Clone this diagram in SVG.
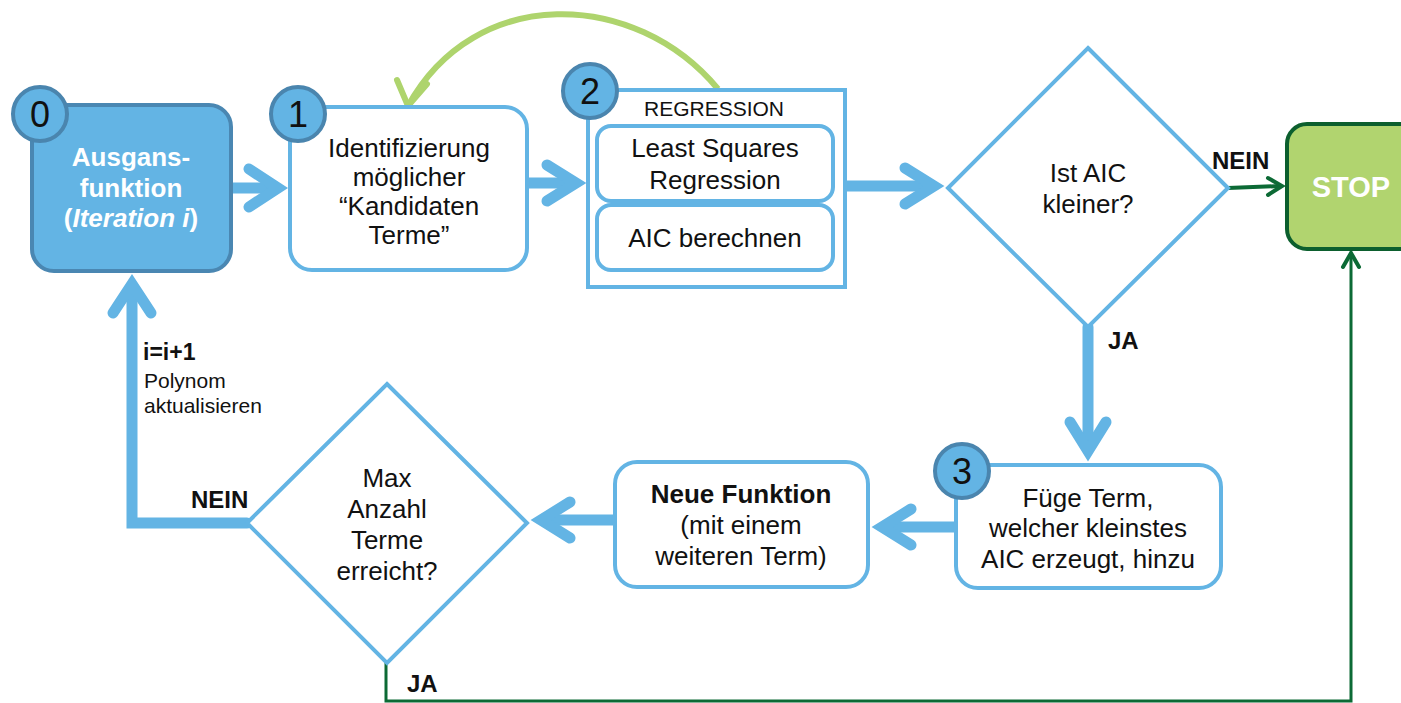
<svg xmlns="http://www.w3.org/2000/svg" width="1401" height="703" viewBox="0 0 1401 703">
<style>
text{font-family:"Liberation Sans",Arial,sans-serif;fill:#111;text-anchor:middle}
.t{font-size:26px}
.b{font-weight:bold}
.w{fill:#fff}
.box{fill:#fff;stroke:#63B4E4;stroke-width:4}
.num{fill:#63B4E4;stroke:#4A85AE;stroke-width:4}
.nt{font-size:36px}
.ba{fill:none;stroke:#63B4E4;stroke-width:11;stroke-linecap:round;stroke-linejoin:miter}
.ga{fill:none;stroke:#0C6A35;stroke-width:4;stroke-linecap:round;stroke-linejoin:miter}
.lb{font-size:24px;font-weight:bold;text-anchor:start}
.sm{font-size:21px;text-anchor:start}
</style>
<g id="connectors">
<path class="ba" d="M231 188 H272"/>
<polyline class="ba" points="249,169 278,188 249,207"/>
<path class="ba" d="M527 183 H570"/>
<polyline class="ba" points="547,165 576,183 547,201"/>
<path class="ba" d="M845 186 H928"/>
<polyline class="ba" points="905,168 934,186 905,204"/>
<path class="ba" d="M1088 327 V444"/>
<polyline class="ba" points="1070,422 1088,451 1106,422"/>
<path class="ba" d="M955 527 H886"/>
<polyline class="ba" points="911,509 882,527 911,545"/>
<path class="ba" d="M615 520 H546"/>
<polyline class="ba" points="570,502 541,520 570,538"/>
<polyline class="ba" points="247,523 132,523 132,294"/>
<polyline class="ba" points="113,313 132,284 151,313"/>
<path d="M718 89 C635 -11 475 -16 408 106" fill="none" stroke="#AED46D" stroke-width="6"/>
<polyline points="397,80 408,106 427,84" fill="none" stroke="#AED46D" stroke-width="6" stroke-linecap="round"/>
<path class="ga" d="M1228 188 L1280 186"/>
<polyline class="ga" points="1268,178 1282,186 1268,195"/>
<polyline class="ga" points="386,663 386,701 1351,701 1351,254" style="stroke-width:3"/>
<polyline class="ga" points="1343,267 1351,253 1359,267"/>
<text class="lb" x="1212" y="169">NEIN</text>
<text class="lb" x="1108" y="349">JA</text>
<text class="lb" x="191" y="508">NEIN</text>
<text class="lb" x="407" y="692">JA</text>
<text class="sm b" x="143" y="360" style="font-size:23px">i=i+1</text>
<text class="sm" x="144" y="388">Polynom</text>
<text class="sm" x="144" y="413">aktualisieren</text>
</g>
<g id="node0">
<rect x="32" y="105" width="199" height="166" rx="22" fill="#63B4E4" stroke="#4A87B2" stroke-width="4"/>
<circle class="num" cx="40" cy="114" r="27"/>
<text class="nt" x="40" y="127">0</text>
<text class="t b w" x="131" y="166">Ausgans-</text>
<text class="t b w" x="131" y="197">funktion</text>
<text class="t b w" x="131" y="227">(<tspan font-style="italic">Iteration i</tspan>)</text>
</g>
<g id="node1">
<rect class="box" x="290" y="107" width="237" height="163" rx="22"/>
<circle class="num" cx="298" cy="114" r="27"/>
<text class="nt" x="298" y="127">1</text>
<text class="t" x="409" y="157">Identifizierung</text>
<text class="t" x="409" y="186">möglicher</text>
<text class="t" x="409" y="215">“Kandidaten</text>
<text class="t" x="409" y="244">Terme”</text>
</g>
<g id="node2">
<rect class="box" x="588" y="90" width="257" height="197"/>
<circle class="num" cx="590" cy="91" r="27"/>
<text class="nt" x="590" y="104">2</text>
<text x="714" y="116" style="font-size:21px">REGRESSION</text>
<rect class="box" x="597" y="126" width="236" height="75" rx="14"/>
<text class="t" x="715" y="157">Least Squares</text>
<text class="t" x="715" y="189">Regression</text>
<rect class="box" x="597" y="205" width="236" height="65" rx="14"/>
<text class="t" x="715" y="247">AIC berechnen</text>
</g>
<g id="decision1">
<polygon class="box" points="1088,48 1228,188 1088,327 948,188"/>
<text class="t" x="1088" y="182">Ist AIC</text>
<text class="t" x="1088" y="213">kleiner?</text>
</g>
<g id="stop">
<rect x="1287" y="124" width="140" height="125" rx="20" fill="#B1D46F" stroke="#0C5F2E" stroke-width="4"/>
<text class="b w" x="1351" y="197" style="font-size:29px">STOP</text>
</g>
<g id="node3">
<rect class="box" x="956" y="465" width="265" height="123" rx="22"/>
<circle class="num" cx="962" cy="471" r="27"/>
<text class="nt" x="962" y="484">3</text>
<text class="t" x="1088" y="507">Füge Term,</text>
<text class="t" x="1088" y="537">welcher kleinstes</text>
<text class="t" x="1088" y="568">AIC erzeugt, hinzu</text>
</g>
<g id="newfunc">
<rect class="box" x="615" y="462" width="253" height="125" rx="22"/>
<text class="t b" x="741" y="503">Neue Funktion</text>
<text class="t" x="741" y="534">(mit einem</text>
<text class="t" x="741" y="565">weiteren Term)</text>
</g>
<g id="decision2">
<polygon class="box" points="387,384 527,523 387,663 247,523"/>
<text class="t" x="387" y="487">Max</text>
<text class="t" x="387" y="518">Anzahl</text>
<text class="t" x="387" y="549">Terme</text>
<text class="t" x="387" y="580">erreicht?</text>
</g>
</svg>
